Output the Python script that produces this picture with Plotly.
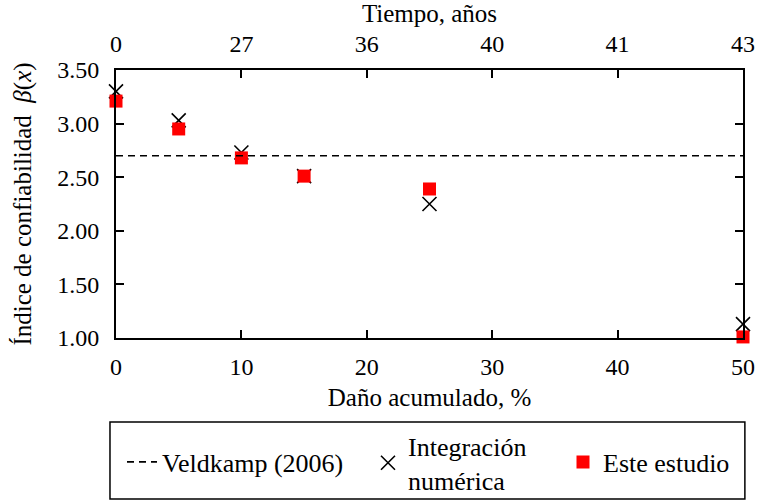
import plotly.graph_objects as go

# Accumulated damage (%) and the reliability index from both methods
dano = [0, 5, 10, 15, 25, 50]
beta_integracion = [3.30, 3.03, 2.73, 2.51, 2.25, 1.13]
beta_estudio = [3.21, 2.95, 2.68, 2.51, 2.39, 1.01]

# Reference threshold (Veldkamp 2006)
veldkamp_x = [0, 50]
veldkamp_beta = [2.70, 2.70]

# Top axis: service time matching each damage tick
dano_ticks = [0, 10, 20, 30, 40, 50]
tiempo_labels = ["0", "27", "36", "40", "41", "43"]
beta_ticks = [1.00, 1.50, 2.00, 2.50, 3.00, 3.50]

FONT = "Liberation Serif, Times New Roman, serif"
FS_TICK = 24
FS_TITLE = 25
FS_LEG = 26
W, H = 758, 502

fig = go.Figure()

fig.add_trace(go.Scatter(
    x=veldkamp_x, y=veldkamp_beta, xaxis="x2", yaxis="y",
    mode="lines", name="Veldkamp (2006)", legend="legend",
    line=dict(color="black", width=1.6, dash="7px,5px"),
))
fig.add_trace(go.Scatter(
    x=dano, y=beta_integracion, mode="markers",
    name="Integración<br>numérica", cliponaxis=False, legend="legend2",
    marker=dict(symbol="x-thin", size=14, color="black",
                line=dict(color="black", width=1.6)),
))
fig.add_trace(go.Scatter(
    x=dano, y=beta_estudio, mode="markers",
    name="Este estudio", cliponaxis=False, legend="legend3",
    marker=dict(symbol="square", size=13, color="#ff0000",
                line=dict(width=0)),
))

axis_common = dict(
    showline=True, linecolor="black", linewidth=2,
    ticks="inside", ticklen=8, tickwidth=2, tickcolor="black",
    showgrid=False, zeroline=False,
    tickfont=dict(family=FONT, size=FS_TICK, color="black"),
)


def legend_at(x_px, y_px):
    # one legend entry placed in container pixels
    return dict(
        xref="container", yref="container",
        x=x_px / W, xanchor="left", y=1 - y_px / H, yanchor="middle",
        orientation="h", bgcolor="rgba(0,0,0,0)", borderwidth=0,
        font=dict(family=FONT, size=FS_LEG, color="black"),
        itemwidth=30, valign="middle",
    )


fig.update_layout(
    width=W, height=H,
    margin=dict(l=116, r=15, t=70, b=164, autoexpand=False),
    paper_bgcolor="white", plot_bgcolor="white",
    font=dict(family=FONT, size=FS_TICK, color="black"),
    showlegend=True,
    xaxis=dict(
        range=[0, 50], tickvals=dano_ticks, ticktext=[str(v) for v in dano_ticks],
        title=dict(text="Daño acumulado, %", font=dict(family=FONT, size=FS_TITLE), standoff=10),
        ticklabelstandoff=6,
        **axis_common,
    ),
    xaxis2=dict(
        range=[0, 50], overlaying="x", side="top", anchor="y",
        tickvals=dano_ticks, ticktext=tiempo_labels,
        title=dict(text="Tiempo, años", font=dict(family=FONT, size=FS_TITLE), standoff=6),
        ticklabelstandoff=6,
        **axis_common,
    ),
    yaxis=dict(
        range=[1.0, 3.5], tickvals=beta_ticks,
        ticktext=[f"{v:.2f}" for v in beta_ticks],
        mirror="ticks",
        title=dict(text="Índice de confiabilidad  <i>β</i>(<i>x</i>)",
                   font=dict(family=FONT, size=FS_TITLE), standoff=18),
        ticklabelstandoff=10,
        **axis_common,
    ),
    legend=legend_at(122, 462),
    legend2=legend_at(368, 463),
    legend3=legend_at(563, 462),
    shapes=[dict(
        type="rect", xref="paper", yref="paper",
        x0=-0.0096, x1=1.003, y0=-0.601, y1=-0.313,
        line=dict(color="black", width=1.5), fillcolor="rgba(0,0,0,0)",
    )],
)

fig.write_html("out.html")
